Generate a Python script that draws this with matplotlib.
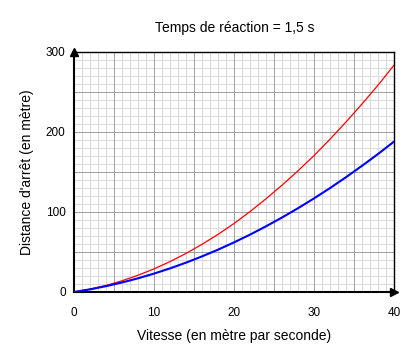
import matplotlib
matplotlib.use("Agg")
from matplotlib import pyplot as plt
from matplotlib.ticker import MultipleLocator

plt.rcParams['font.family'] = ['Liberation Sans', 'DejaVu Sans']

# values, every 2 m/s
vitesse = [0, 2, 4, 6, 8, 10, 12, 14, 16, 18, 20, 22, 24, 26, 28, 30, 32, 34, 36, 38, 40]
dist_rouge = [0, 3.6, 8.2, 14.0, 20.9, 28.9, 38.0, 48.2, 59.6, 72.0, 85.6, 100.5, 116.5,
              133.5, 151.5, 170.5, 191.0, 212.5, 235.0, 258.5, 283.5]
dist_bleu = [0, 3.3, 7.3, 11.9, 17.1, 23.0, 29.5, 36.7, 44.5, 52.9, 62.0, 71.7, 82.1,
             93.1, 104.7, 117.0, 129.9, 143.5, 157.7, 172.5, 188.0]
xticks = [0, 10, 20, 30, 40]
yticks = [0, 100, 200, 300]

fig = plt.figure(figsize=(4.18, 3.61), dpi=100)
ax = fig.add_axes([74/418, 1-292/361, 320/418, 240/361])

ax.set_xlim(0, 40)
ax.set_ylim(0, 300)

ax.xaxis.set_minor_locator(MultipleLocator(1))
ax.yaxis.set_minor_locator(MultipleLocator(10))
ax.grid(which='minor', color='#dadada', linewidth=0.72, antialiased=False)
ax.set_axisbelow(True)
# major grid every 5 m/s and 50 m
for gx in range(5, 40, 5):
    ax.axvline(gx, color='#a0a0a0', linewidth=0.72, zorder=1, antialiased=False)
for gy in range(50, 300, 50):
    ax.axhline(gy, color='#a0a0a0', linewidth=0.72, zorder=1, antialiased=False)

ax.plot(vitesse, dist_rouge, color='#ff0000', linewidth=0.9, zorder=3)
ax.plot(vitesse, dist_bleu, color='#0000ff', linewidth=1.5, zorder=3)

ax.set_xticks(xticks)
ax.set_yticks(yticks)
ax.tick_params(which='both', length=0, labelsize=8.5)
ax.tick_params(axis='x', pad=11)
ax.tick_params(axis='y', pad=6)

for s in ax.spines.values():
    s.set_color('black')
    s.set_linewidth(1.0)
ax.spines['left'].set_linewidth(1.5)
ax.spines['bottom'].set_linewidth(1.5)

# arrows at ends of axes
ax.plot([0], [1], marker='^', color='black', markersize=6, transform=ax.transAxes, clip_on=False, zorder=5)
ax.plot([1], [0], marker='>', color='black', markersize=6, transform=ax.transAxes, clip_on=False, zorder=5)

fig.text(235/418, 1-28/361, 'Temps de réaction = 1,5 s', ha='center', va='center', fontsize=10)
fig.text(234/418, 1-336/361, 'Vitesse (en mètre par seconde)', ha='center', va='center', fontsize=10)
fig.text(27/418, 1-172/361, "Distance d'arrêt (en mètre)", ha='center', va='center',
         rotation=90, fontsize=10)

fig.savefig('out.png', dpi=100)
